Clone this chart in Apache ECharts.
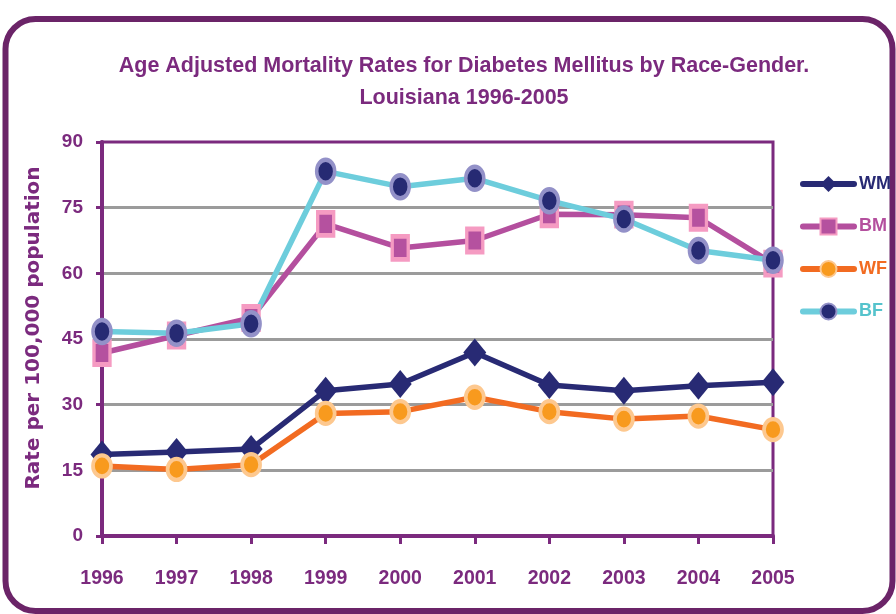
<!DOCTYPE html>
<html>
<head>
<meta charset="utf-8">
<script src="https://cdn.jsdelivr.net/npm/echarts@6/dist/echarts.min.js"></script>
<style>html,body{margin:0;padding:0;background:#fff}#c{width:896px;height:614px}</style>
</head>
<body>
<div id="c"></div>
<script>
var years = ['1996','1997','1998','1999','2000','2001','2002','2003','2004','2005'];
var seriesNames = ['WM','BM','WF','BF'];
var wm = [18.6, 19.2, 19.9, 33.2, 34.7, 41.9, 34.5, 33.2, 34.3, 35.1];
var bm = [41.8, 45.8, 49.8, 71.3, 65.8, 67.5, 73.5, 73.4, 72.7, 62.2];
var wf = [16.0, 15.2, 16.3, 28.0, 28.4, 31.7, 28.4, 26.7, 27.4, 24.3];
var bf = [46.7, 46.3, 48.5, 83.3, 79.8, 81.7, 76.6, 72.4, 65.2, 63.0];
var yTicks = [0, 15, 30, 45, 60, 75, 90];

var PURPLE = '#7B2A7E';
var FONT = '"Liberation Sans", Arial, sans-serif';

var chart = echarts.init(document.getElementById('c'), null, {renderer: 'canvas'});
chart.setOption({
  animation: false,
  backgroundColor: '#fff',
  graphic: [{
    type: 'rect', z: -10,
    shape: {x: 5.5, y: 19, width: 887, height: 592, r: 30},
    style: {fill: 'none', stroke: '#6B2468', lineWidth: 6}
  }],
  title: {
    text: 'Age Adjusted Mortality Rates for Diabetes Mellitus by Race-Gender.\nLouisiana 1996-2005',
    left: 464, top: 50, padding: 0, textAlign: 'center',
    textStyle: {fontFamily: FONT, fontWeight: 'bold', fontSize: 21.5, lineHeight: 32, color: PURPLE, align: 'center'}
  },
  legend: {
    orient: 'vertical', left: 800, top: 175, padding: 0,
    itemWidth: 51, itemHeight: 20, itemGap: 24.5,
    lineStyle: {width: 6, cap: 'round'},
    textStyle: {fontFamily: FONT, fontWeight: 'bold', fontSize: 18},
    data: [
      {name: 'WM', textStyle: {color: '#282A74'}},
      {name: 'BM', textStyle: {color: '#B44F9E'}},
      {name: 'WF', textStyle: {color: '#F26B21'}},
      {name: 'BF', textStyle: {color: '#55C3CC'}}
    ]
  },
  grid: {left: 102, right: 123, top: 142, bottom: 78, show: true, borderColor: PURPLE, borderWidth: 3, backgroundColor: 'transparent'},
  xAxis: {
    type: 'category', data: years, boundaryGap: false,
    axisLine: {lineStyle: {color: PURPLE, width: 4}},
    axisTick: {show: true, length: 8, lineStyle: {color: PURPLE, width: 3}},
    axisLabel: {margin: 33, color: PURPLE, fontFamily: FONT, fontWeight: 'bold', fontSize: 19.5},
    splitLine: {show: false}
  },
  yAxis: {
    type: 'value', min: yTicks[0], max: yTicks[yTicks.length - 1], interval: 15,
    name: 'Rate per 100,000 population', nameLocation: 'middle', nameRotate: 90, nameGap: 58,
    nameTextStyle: {color: PURPLE, fontFamily: '"DejaVu Sans", sans-serif', fontWeight: 'bold', fontSize: 20, padding: [0, 0, 0, 22]},
    axisLine: {show: true, lineStyle: {color: PURPLE, width: 4}},
    axisTick: {show: true, length: 6, lineStyle: {color: PURPLE, width: 3}},
    axisLabel: {margin: 19, color: PURPLE, fontFamily: FONT, fontWeight: 'bold', fontSize: 19},
    splitLine: {show: true, showMinLine: false, showMaxLine: false, lineStyle: {color: '#9B9B9B', width: 3}}
  },
  series: [
    {
      name: 'WM', type: 'line', data: wm, clip: false,
      symbol: 'diamond', symbolSize: [23, 28],
      lineStyle: {color: '#282A74', width: 5.5},
      itemStyle: {color: '#282A74'}
    },
    {
      name: 'BM', type: 'line', data: bm, clip: false,
      symbol: 'rect', symbolSize: [16, 23],
      lineStyle: {color: '#B44F9E', width: 5.5},
      itemStyle: {color: '#B5519F', borderColor: '#F59BC2', borderWidth: 4}
    },
    {
      name: 'WF', type: 'line', data: wf, clip: false,
      symbol: 'circle', symbolSize: [18, 21],
      lineStyle: {color: '#F26B21', width: 5.5},
      itemStyle: {color: '#F89A1E', borderColor: '#FDC88F', borderWidth: 4}
    },
    {
      name: 'BF', type: 'line', data: bf, clip: false,
      symbol: 'circle', symbolSize: [18, 23],
      lineStyle: {color: '#6DCDDC', width: 5.5},
      itemStyle: {color: '#262A73', borderColor: '#9391C8', borderWidth: 4}
    }
  ]
});
</script>
</body>
</html>
